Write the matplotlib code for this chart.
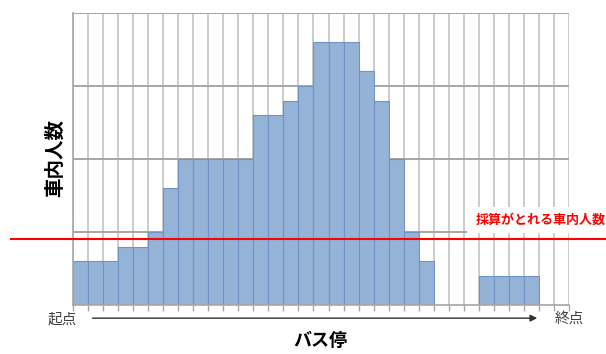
import matplotlib
matplotlib.use('Agg')
import matplotlib.pyplot as plt
from matplotlib.patches import Rectangle

plt.rcParams['font.family'] = ['Noto Sans CJK JP', 'DejaVu Sans']

# 各停留所区間の車内人数（33区間）
passengers = [6, 6, 6, 8, 8, 10, 16, 20, 20, 20, 20, 20, 26, 26, 28, 30,
              36, 36, 36, 32, 28, 20, 10, 6, 0, 0, 0, 4, 4, 4, 4, 0, 0]
break_even = 9
y_max = 40
y_grid = [0, 10, 20, 30, 40]

label_y = '車内人数'
label_x = 'バス停'
label_start = '起点'
label_end = '終点'
label_line = '採算がとれる車内人数'

fig = plt.figure(figsize=(6.06, 3.54), dpi=100)
ax = fig.add_axes([73 / 606, 49 / 354, 496 / 606, 292 / 354])

n = len(passengers)
xs = [i + 0.5 for i in range(n)]
ax.bar(xs, passengers, width=1.0, color='#95B3D7', edgecolor='#7192C4',
       linewidth=0.8, zorder=2)

# グリッド
for x in range(n + 1):
    ax.axvline(x, color='#BEBEBE', linewidth=1.1, zorder=1)
for y in y_grid[1:]:
    ax.axhline(y, color='#A6A6A6', linewidth=1.4, zorder=1)

ax.set_xlim(0, n)
ax.set_ylim(0, y_max)
ax.set_xticks(range(n + 1))
ax.set_xticklabels([])
ax.set_yticks([])
ax.tick_params(axis='x', direction='out', length=4, color='#A6A6A6', width=1)
for side in ['top', 'right']:
    ax.spines[side].set_visible(False)
ax.spines['left'].set_color('#A6A6A6')
ax.spines['bottom'].set_color('#A6A6A6')
ax.spines['left'].set_linewidth(1.2)
ax.spines['bottom'].set_linewidth(1.2)

# 採算ライン
ax.axhline(break_even, xmin=-0.125, xmax=1.08, color='#FF0000',
           linewidth=1.5, clip_on=False, zorder=4)

# ラベル背景
fig.patches.append(Rectangle((467 / 606, 121 / 354), 139 / 606, 26 / 354,
                             transform=fig.transFigure, facecolor='white',
                             edgecolor='none', zorder=2))
fig.text(541 / 606, 134 / 354, label_line, color='#FF0000', fontsize=9.4,
         fontweight='bold', ha='center', va='center', zorder=3)

# 軸ラベル
ax.text(-0.036, 0.503, label_y, transform=ax.transAxes, rotation=90,
        fontsize=14, fontweight='bold', ha='center', va='center')
ax.text(0.498, -0.12, label_x, transform=ax.transAxes,
        fontsize=13, fontweight='bold', ha='center', va='center')
ax.text(-0.022, -0.048, label_start, transform=ax.transAxes,
        fontsize=10.5, color='#404040', ha='center', va='center')
ax.text(1.0, -0.048, label_end, transform=ax.transAxes,
        fontsize=10.5, color='#404040', ha='center', va='center')

ax.annotate('', xy=(0.9415, -0.045), xytext=(0.034, -0.045),
            xycoords='axes fraction',
            arrowprops=dict(arrowstyle='-|>', color='#303030', lw=1,
                            mutation_scale=10))

fig.savefig('out.png', dpi=100)
